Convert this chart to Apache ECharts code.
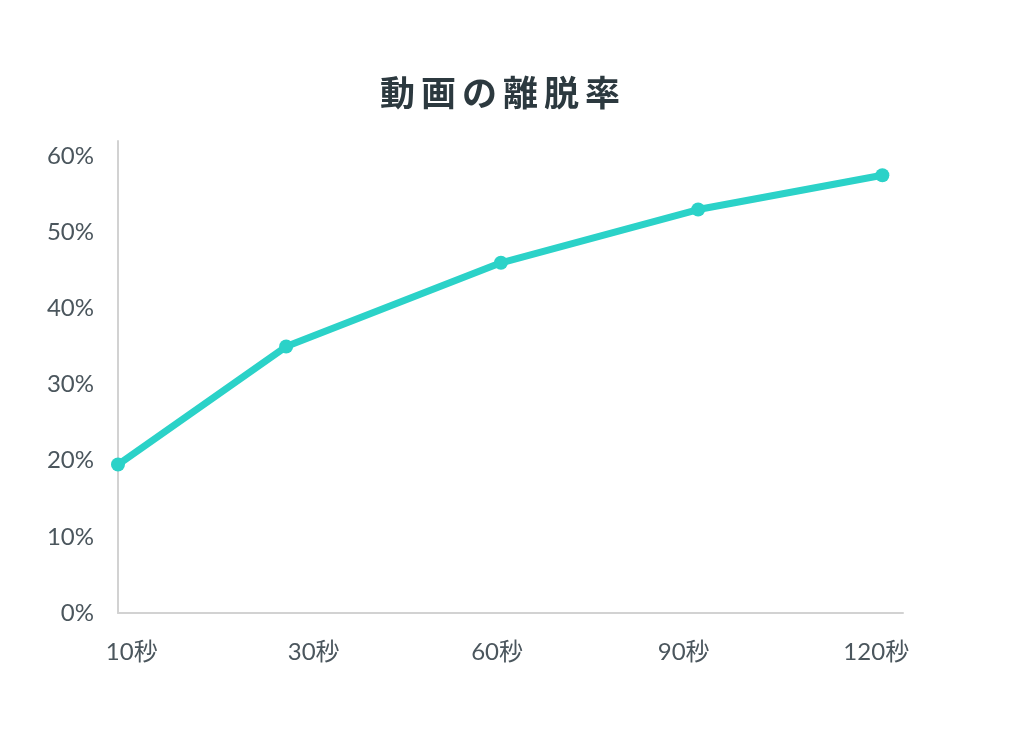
<!DOCTYPE html>
<html>
<head>
<meta charset="utf-8">
<script src="https://cdn.jsdelivr.net/npm/echarts@6/dist/echarts.min.js"></script>
<style>
  html, body { margin: 0; padding: 0; background: #fff; }
  #main { width: 1024px; height: 733px; }
</style>
</head>
<body>
<div id="main"></div>
<script>
// 横軸：点の位置とラベルの位置（元の図の間隔に合わせた値）
var timeLabels = ['10秒', '30秒', '60秒', '90秒', '120秒'];
var timePos = [0, 22, 50.1, 75.9, 100];
var labelPos = [1.8, 25.6, 49.6, 74.0, 99.2];
// 離脱率 (%)
var dropRate = [19.5, 35.0, 46.0, 53.0, 57.5];
var yTicks = [0, 10, 20, 30, 40, 50, 60];
var titleText = '動画の離脱率';

var chartDom = document.getElementById('main');
var myChart = echarts.init(chartDom);
var font = "Lato, 'Noto Sans CJK JP', sans-serif";

var seriesData = timePos.map(function (x, i) {
  return [x, dropRate[i]];
});

// 文字間隔をあけるため一文字ずつ rich で包む
var titleRich = titleText.split('').map(function (c) {
  return '{c|' + c + '}';
}).join('');

var option = {
  backgroundColor: '#ffffff',
  title: {
    text: titleRich,
    left: 372,
    top: 70,
    textStyle: {
      rich: {
        c: {
          fontFamily: "'Noto Sans CJK JP', sans-serif",
          fontSize: 35,
          fontWeight: 'bold',
          color: '#2c393f',
          padding: [0, 3]
        }
      }
    }
  },
  grid: {
    left: 118,
    right: 121,
    top: 141,
    bottom: 120,
    containLabel: false
  },
  xAxis: {
    type: 'value',
    min: 0,
    max: 102.7,
    splitLine: { show: false },
    axisTick: { show: false },
    axisLine: { lineStyle: { color: '#d2d2d2', width: 2 } },
    axisLabel: {
      customValues: labelPos,
      margin: 27,
      fontFamily: font,
      fontSize: 24,
      color: '#4b565d',
      formatter: function (v) {
        var i = labelPos.indexOf(v);
        return i >= 0 ? timeLabels[i] : '';
      }
    }
  },
  yAxis: {
    type: 'value',
    min: 0,
    max: 62,
    splitLine: { show: false },
    axisTick: { show: false },
    axisLine: { show: true, lineStyle: { color: '#d2d2d2', width: 2 } },
    axisLabel: {
      customValues: yTicks,
      margin: 24,
      fontFamily: font,
      fontSize: 24,
      color: '#4b565d',
      formatter: '{value}%'
    }
  },
  series: [
    {
      type: 'line',
      data: seriesData,
      symbol: 'circle',
      symbolSize: 14,
      clip: false,
      lineStyle: { color: '#2bd2c8', width: 7 },
      itemStyle: { color: '#2bd2c8' },
      animation: false
    }
  ]
};

option && myChart.setOption(option);
</script>
</body>
</html>
